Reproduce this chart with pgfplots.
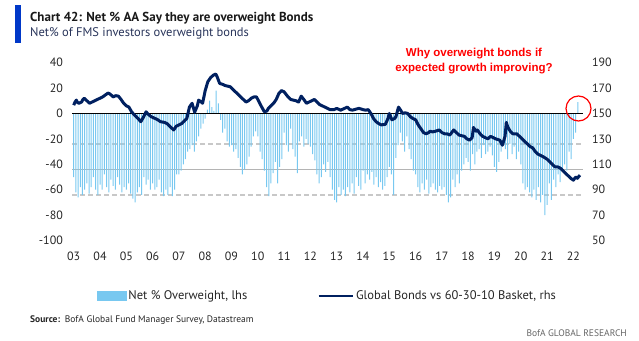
\documentclass[border=0pt]{standalone}
\usepackage{pgfplots}
\pgfplotsset{compat=1.18}
\usepackage{pgfplotstable}
\usepackage{fontspec}
\setmainfont{PT Sans}
\newfontfamily\arialf{Liberation Sans}
\definecolor{barblue}{RGB}{120,200,240}
\definecolor{navy}{RGB}{0,32,96}
\definecolor{titlebar}{RGB}{0,56,200}
\definecolor{subcol}{RGB}{40,52,90}
\definecolor{gridgray}{RGB}{200,200,200}

\pgfplotstableread{
y
-50
-62
-66
-58
-64
-60
-55
-63
-58
-50
-60
-64
-56
-60
-48
-58
-62
-52
-57
-60
-50
-56
-62
-58
-60
-55
-63
-67
-70
-62
-58
-64
-50
-56
-52
-60
-55
-60
-58
-52
-62
-65
-60
-64
-58
-65
-60
-48
-48
-45
-40
-36
-30
-28
-25
-30
-22
-18
-12
-8
-4
3
10
5
2
18
8
-5
-15
-12
-22
-26
-25
-30
-28
-35
-42
-48
-44
-40
-34
-26
-18
-14
-18
-30
-36
-45
-58
-65
-55
-47
-38
-55
-42
-36
-15
-25
-30
-12
-28
-34
-47
-22
-18
-26
-20
-24
-26
-32
-37
-48
-55
-50
-40
-46
-38
-50
-60
-68
-70
-58
-64
-60
-65
-58
-62
-55
-63
-50
-57
-60
-45
-55
-48
-52
-46
-56
-50
-58
-54
-60
-57
-50
-42
-48
-64
-35
-25
-15
-22
-30
-18
-28
-36
-45
-48
-58
-62
-55
-60
-52
-63
-58
-55
-60
-62
-57
-60
-58
-64
-70
-66
-52
-58
-48
-55
-45
-40
-35
-38
-45
-32
-40
-30
-28
-35
-25
-32
-30
-26
-33
-42
-46
-38
-30
-20
-28
-36
-24
-32
-26
-36
-30
-40
-55
-60
-58
-62
-66
-60
-68
-58
-70
-64
-80
-72
-55
-68
-52
-58
-48
-54
-44
-40
-45
-30
-36
-20
-15
9
}\bars

\pgfplotstableread{
x y
2003.00 156.5
2003.05 159
2003.10 160.5
2003.15 158.5
2003.20 158
2003.30 159
2003.35 161
2003.40 162
2003.50 160
2003.60 158
2003.70 159
2003.80 160
2003.90 161
2004.00 162
2004.10 163
2004.20 164.5
2004.30 166
2004.35 165.7
2004.45 164
2004.50 163
2004.60 164
2004.70 163.6
2004.80 161
2004.90 158
2005.00 156
2005.10 155
2005.20 151.3
2005.30 149
2005.45 146
2005.55 143.5
2005.65 147
2005.75 151.3
2005.85 149
2005.95 147.4
2006.10 146
2006.20 145
2006.30 143.5
2006.45 143
2006.55 142
2006.70 139
2006.80 137
2006.90 140
2007.00 141
2007.10 142
2007.20 144
2007.30 146
2007.40 155
2007.50 158
2007.60 151
2007.70 156
2007.75 160.5
2007.85 159
2007.90 158
2008.00 168
2008.10 175
2008.20 178
2008.30 180
2008.40 181
2008.45 179
2008.55 173.6
2008.65 173
2008.75 172
2008.85 171.5
2008.95 171
2009.05 169
2009.15 167
2009.25 165
2009.35 163
2009.45 161
2009.55 159
2009.65 160
2009.75 162
2009.85 163
2009.95 163
2010.05 159
2010.15 155
2010.25 151.3
2010.35 152
2010.40 154
2010.50 156
2010.60 158
2010.70 161
2010.80 165.7
2010.90 168
2011.00 167
2011.15 163
2011.25 161
2011.35 160.5
2011.45 160
2011.55 159
2011.65 163.6
2011.75 161
2011.85 158
2011.95 159
2012.05 160
2012.15 161
2012.25 159
2012.35 157
2012.45 156
2012.55 155
2012.65 154
2012.75 153
2012.90 153
2013.00 154
2013.15 152.6
2013.30 154
2013.40 155
2013.50 153
2013.60 152.6
2013.75 153.5
2013.85 154
2014.00 153
2014.10 152.6
2014.20 153
2014.30 150
2014.40 146
2014.50 143.5
2014.60 142
2014.70 141
2014.85 141.5
2014.95 146
2015.00 150
2015.10 145
2015.20 146
2015.25 147.4
2015.35 155
2015.45 152
2015.50 150
2015.60 150.5
2015.70 150
2015.80 147.4
2015.90 146
2016.00 145
2016.10 141
2016.20 138
2016.30 135
2016.40 134
2016.50 135
2016.55 136
2016.65 135.5
2016.75 136
2016.90 137
2017.00 135
2017.10 134
2017.20 134
2017.30 133
2017.45 137
2017.55 135
2017.65 133
2017.75 132.5
2017.85 132
2017.95 130
2018.05 129
2018.15 131
2018.20 139
2018.30 136
2018.35 137
2018.45 134
2018.55 132
2018.65 131
2018.75 130
2018.85 132
2018.95 131
2019.05 130
2019.20 129
2019.30 125
2019.40 132
2019.45 143
2019.50 139.5
2019.60 136
2019.70 134
2019.85 134
2019.95 132
2020.05 130
2020.15 128
2020.25 126
2020.35 124
2020.45 123
2020.55 120
2020.65 118
2020.75 117
2020.85 116
2021.00 114
2021.10 112
2021.20 110
2021.30 108
2021.40 108
2021.50 107
2021.60 105
2021.70 103
2021.80 101
2021.90 99
2022.00 97.5
2022.05 99
2022.10 100
2022.15 99
2022.25 101.5
}\bonds

\pgfplotsset{
  every tick label/.append style={font=\fontsize{12}{14}\selectfont, text=black!85},
}

\begin{document}
\begin{tikzpicture}[x=1pt,y=1pt]
\useasboundingbox (0,0) rectangle (639,340);
\fill[titlebar] (15,335) rectangle (21,297);
\node[anchor=west, inner sep=0pt, font=\fontsize{13}{15}\selectfont\bfseries, text=black!90] at (30,322) {Chart 42: Net \% AA Say they are overweight Bonds};
\node[anchor=west, inner sep=0pt, font=\fontsize{12.5}{15}\selectfont, text=subcol] at (30,307) {Net\% of FMS investors overweight bonds};

\begin{axis}[
  at={(72.4pt,99.4pt)}, anchor=south west, scale only axis,
  width=510.2pt, height=178pt,
  xmin=2002.95, xmax=2022.35, ymin=-100, ymax=40,
  /pgf/number format/assume math mode=true,
  ytick={-100,-80,...,40},
  xtick={2003,2004,...,2022},
  xticklabels={03,04,05,06,07,08,09,10,11,12,13,14,15,16,17,18,19,20,21,22},
  axis x line*=bottom, axis y line*=left,
  axis line style={draw=none}, tick style={draw=none},
  xticklabel style={yshift=-8pt},
  yticklabel style={xshift=-6pt},
  extra y ticks={-64,-24}, extra y tick labels={},
  extra y tick style={grid=major, major grid style={gridgray, dashed, dash pattern=on 5pt off 3pt, line width=1.4pt}},
  minor ytick={-44}, yminorgrids=true,
  minor grid style={gridgray!90!black, line width=0.9pt},
  minor tick style={draw=none},
]
\addplot[ybar, bar width=1.0pt, fill=barblue, draw=none] table[x expr=2003+\coordindex/12, y=y]{\bars};
\end{axis}

\begin{axis}[
  at={(72.4pt,99.4pt)}, anchor=south west, scale only axis,
  width=510.2pt, height=178pt,
  xmin=2002.95, xmax=2022.35, ymin=50, ymax=190,
  /pgf/number format/assume math mode=true,
  ytick={50,70,...,190},
  axis x line=none, axis y line*=right,
  axis line style={draw=none}, tick style={draw=none},
  yticklabel style={xshift=6pt},
  extra y ticks={150}, extra y tick labels={},
  extra y tick style={grid=major, major grid style={black, line width=0.9pt}},
  legend style={at={(0.50,-0.311)}, anchor=center, draw=none, fill=none,
    font=\fontsize{12.5}{14}\selectfont, text=black!85,
    /tikz/every even column/.append style={column sep=68pt}},
  legend columns=2,
]
\addlegendimage{legend image code/.code={\fill[barblue] (0pt,-4.5pt) rectangle (29pt,4.5pt);}}
\addlegendentry{Net \% Overweight, lhs}
\addplot[navy, line width=3pt, line join=round,
  legend image code/.code={\draw[navy, line width=2.8pt] (0pt,0pt) -- (34pt,0pt);}]
  table[x=x, y=y]{\bonds};
\addlegendentry{Global Bonds vs 60-30-10 Basket, rhs}
\end{axis}

\draw[red, line width=1.2pt] (578.5,231.5) circle (12.5);
\node[align=center, text=red, font=\arialf\bfseries\fontsize{11.5}{15}\selectfont] at (474,279) {Why overweight bonds if\\expected growth improving?};
\node[anchor=west, inner sep=0pt, font=\fontsize{9.5}{11}\selectfont, text=black!85] at (30,20) {{\bfseries Source:}\enspace BofA Global Fund Manager Survey, Datastream};
\node[anchor=east, inner sep=0pt, font=\fontsize{9.5}{11}\selectfont, text=black!60] at (627,7) {BofA GLOBAL RESEARCH};
\end{tikzpicture}
\end{document}
